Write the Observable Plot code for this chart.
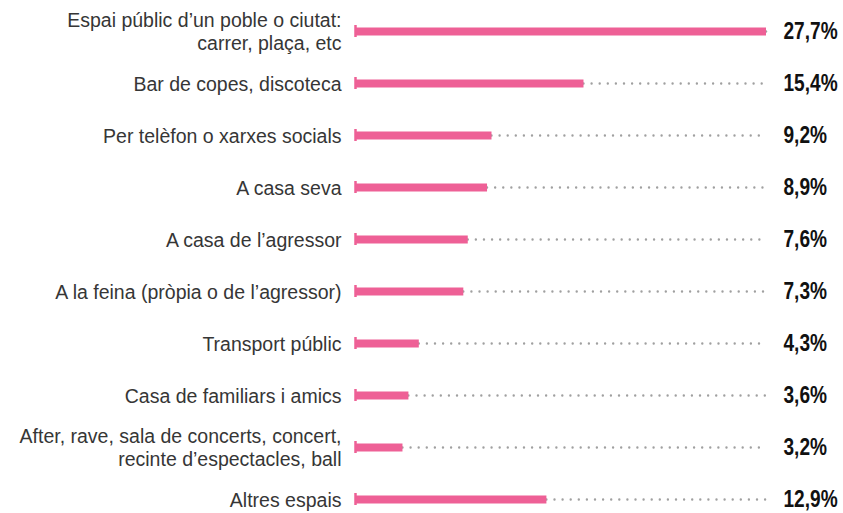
<!DOCTYPE html>
<html>
<head>
<meta charset="utf-8">
<script src="https://cdn.jsdelivr.net/npm/d3@7"></script>
<script src="https://cdn.jsdelivr.net/npm/@observablehq/plot@0.6"></script>
<style>
  html, body { margin: 0; padding: 0; background: #fff; }
  #chart svg { display: block; }
</style>
</head>
<body>
<div id="chart"></div>
<script>
const categories = [
  "Espai públic d’un poble o ciutat:\ncarrer, plaça, etc",
  "Bar de copes, discoteca",
  "Per telèfon o xarxes socials",
  "A casa seva",
  "A casa de l’agressor",
  "A la feina (pròpia o de l’agressor)",
  "Transport públic",
  "Casa de familiars i amics",
  "After, rave, sala de concerts, concert,\nrecinte d’espectacles, ball",
  "Altres espais"
];
const values = [27.7, 15.4, 9.2, 8.9, 7.6, 7.3, 4.3, 3.6, 3.2, 12.9];

const data = categories.map((c, i) => ({cat: c, value: values[i]}));
const maxV = d3.max(values);
const fmt = v => v.toFixed(1).replace(".", ",") + "%";
const squeeze = 0.83;

const chart = Plot.plot({
  width: 843,
  height: 513,
  style: {background: "#fff"},
  x: {domain: [0, maxV], range: [355, 766], axis: null},
  y: {type: "band", domain: categories, range: [5, 525], padding: 0, axis: null},
  marks: [
    Plot.ruleY(data, {
      y: "cat", x1: "value", x2: maxV,
      stroke: "#a0a0a0", strokeWidth: 2.4,
      strokeDasharray: "0,8.1", strokeLinecap: "round"
    }),
    Plot.ruleY(data, {
      y: "cat", x1: 0, x2: "value",
      stroke: "#ee6096", strokeWidth: 8
    }),
    Plot.tickX(data, {
      x: 0, y: "cat",
      stroke: "#ee6096", strokeWidth: 2.5,
      insetTop: 20, insetBottom: 20
    }),
    Plot.text(data, {
      x: 0, y: "cat", text: "cat",
      textAnchor: "end", dx: -14,
      fontSize: 19.5, lineHeight: 1.18,
      fill: "#363636",
      fontFamily: "Liberation Sans, Arial, sans-serif"
    }),
    Plot.text(data, {
      x: maxV, y: "cat", text: d => fmt(d.value),
      textAnchor: "start", dx: 17,
      fontSize: 23, fontWeight: "bold",
      fill: "#111",
      fontFamily: "Liberation Sans, Arial, sans-serif",
      className: "vlabel"
    })
  ]
});
document.getElementById("chart").appendChild(chart);
// condense the bold value labels horizontally (narrow bold look)
d3.select(chart).selectAll("g.vlabel text").each(function() {
  const t = this.getAttribute("transform") || "";
  this.setAttribute("transform", t + ` scale(${squeeze},1)`);
});
</script>
</body>
</html>
